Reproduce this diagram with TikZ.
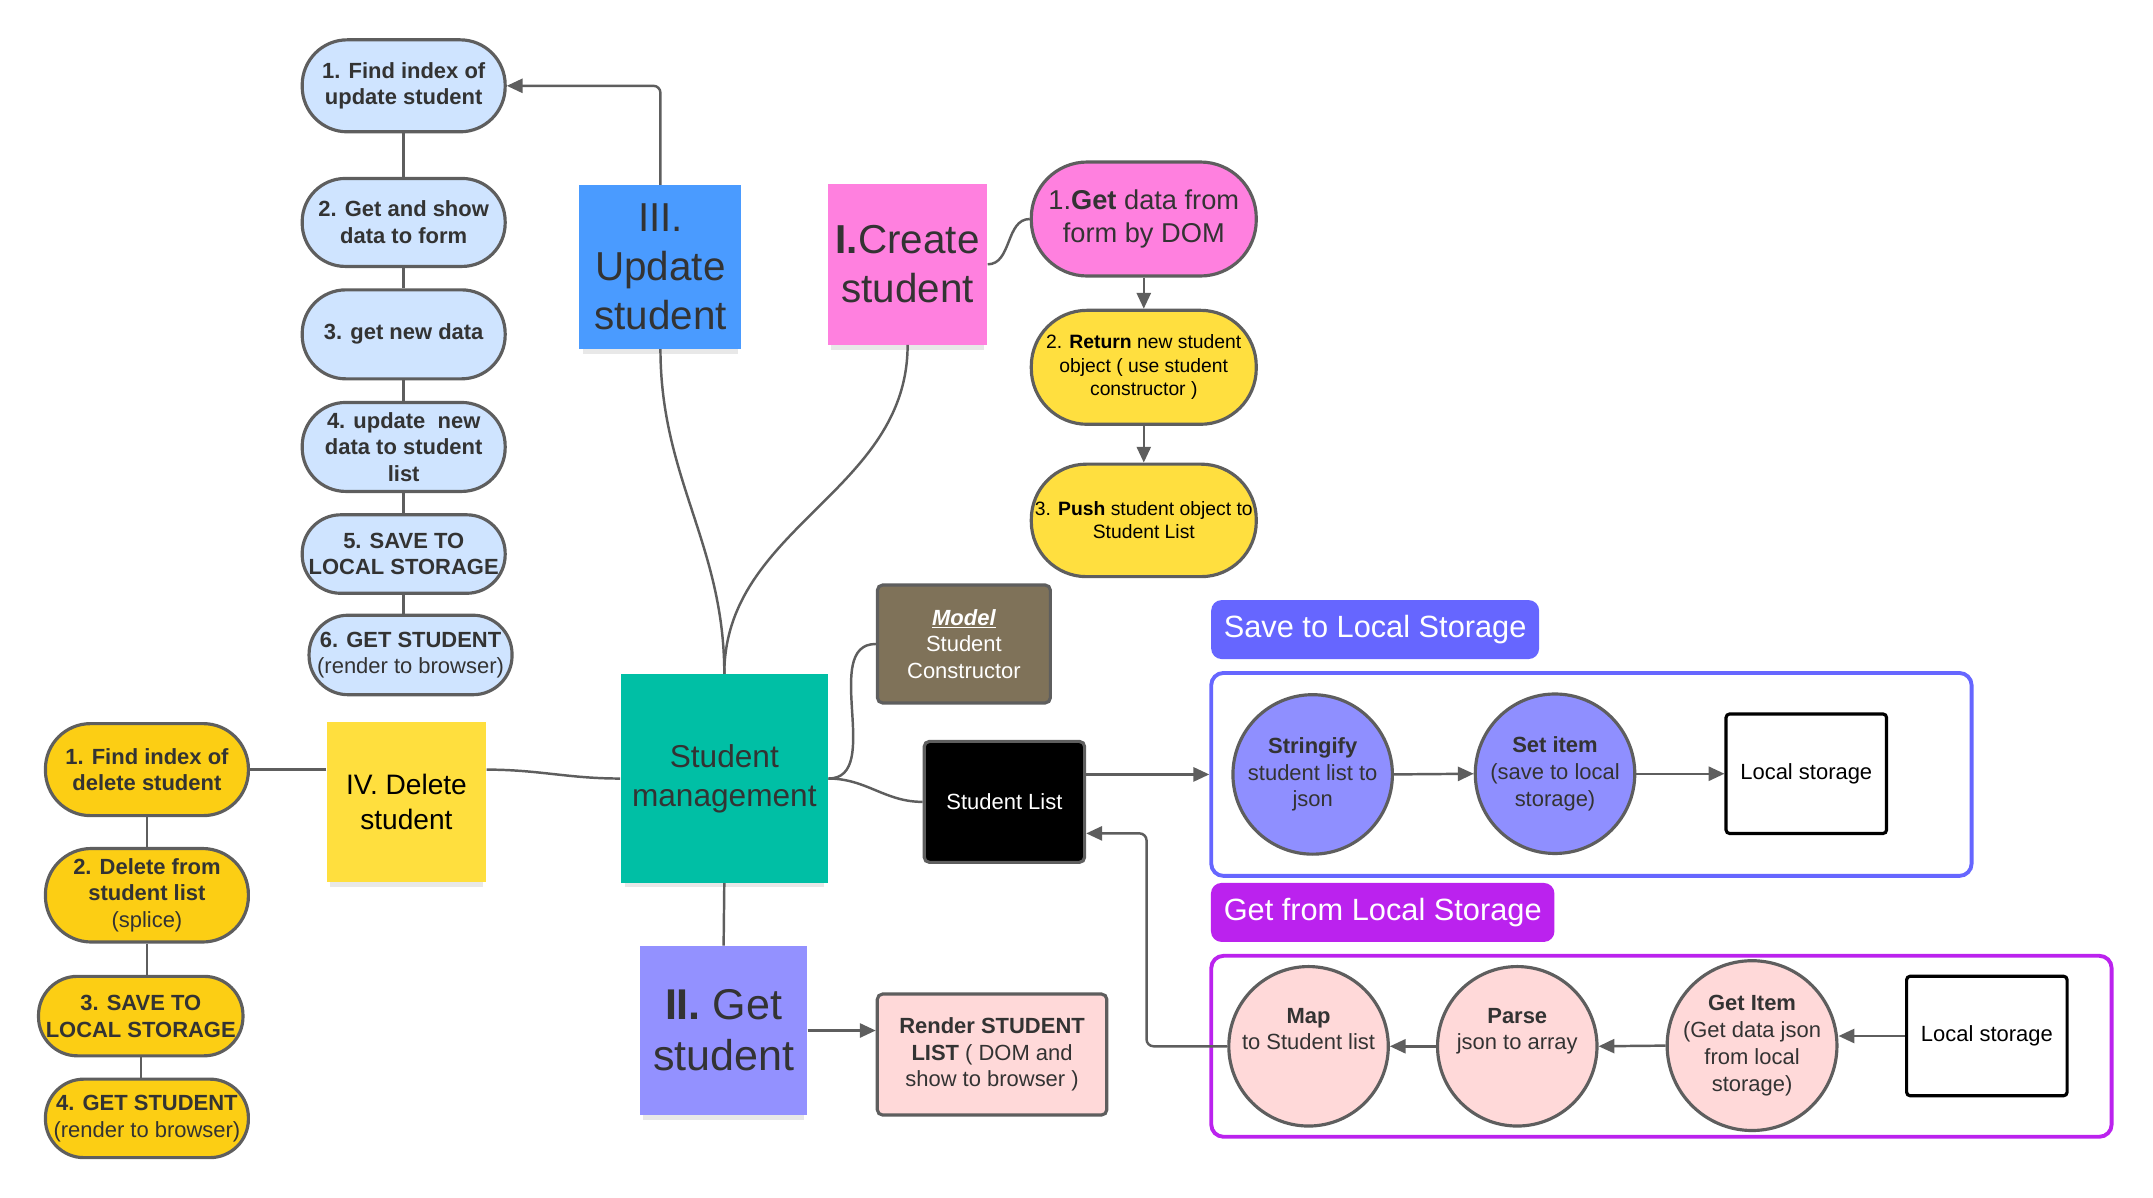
\documentclass[tikz,border=0pt]{standalone}
\usepackage{fontspec}
\setmainfont{Liberation Sans}
\usetikzlibrary{arrows.meta, shadows}

\definecolor{linegray}{HTML}{5E5E5E}
\definecolor{txtgray}{HTML}{333333}
\definecolor{updfill}{HTML}{CFE4FF}
\definecolor{delfill}{HTML}{FCCE14}
\definecolor{crpink}{HTML}{FF80DF}
\definecolor{cryellow}{HTML}{FFDF3F}
\definecolor{updnote}{HTML}{4A9BFF}
\definecolor{delnote}{HTML}{FFDF3E}
\definecolor{smfill}{HTML}{00BFA5}
\definecolor{getnote}{HTML}{9391FF}
\definecolor{modelfill}{HTML}{7F7259}
\definecolor{lsfill}{HTML}{FFD9D9}
\definecolor{savecol}{HTML}{6666FF}
\definecolor{getcol}{HTML}{BB22EE}
\definecolor{savebub}{HTML}{8F8FFF}

\begin{document}
\begin{tikzpicture}[
    x=0.02746cm, y=-0.02746cm,
    % Line and box styles
    conn/.style={draw=linegray, line width=1.4pt},
    arrow/.style={conn, -{Triangle[length=9pt, width=8pt]}},
    pill/.style={draw=linegray, line width=1.8pt, minimum height=#1, rounded corners=0.49*#1, inner sep=1pt, align=center},
    updstep/.style={pill=#1, fill=updfill, minimum width=4.06cm, text=txtgray, font=\fontsize{12.5}{15.2}\selectfont\bfseries},
    delstep/.style={pill=#1, fill=delfill, minimum width=4.06cm, text=txtgray, font=\fontsize{12.5}{15.2}\selectfont\bfseries},
    crstep/.style={pill=#1, minimum width=4.5cm},
    note/.style={align=center, text=txtgray, inner sep=2pt, drop shadow={shadow xshift=0pt, shadow yshift=-5pt, shadow scale=0.96, opacity=0.18}},
    box/.style={draw=linegray, line width=1.8pt, rounded corners=3pt, align=center, font=\fontsize{12.5}{15.2}\selectfont},
    bubble/.style={circle, draw=linegray, line width=1.8pt, minimum size=3.19cm, inner sep=0pt, align=center, text=txtgray, font=\fontsize{12.5}{15.2}\selectfont},
    store/.style={draw=black, line width=1.8pt, rounded corners=2pt, fill=white, minimum width=3.21cm, minimum height=2.39cm, font=\fontsize{12.5}{15.2}\selectfont},
    tagbox/.style={rounded corners=6pt, text=white, minimum height=1.18cm, font=\fontsize{17.5}{21}\selectfont},
    groupframe/.style={rounded corners=7pt, line width=2.2pt, fill=white}
]
\useasboundingbox (0,0) rectangle (1568,872);

% 1. Sticky notes
\node[note, fill=smfill, minimum width=4.15cm, minimum height=4.17cm, font=\fontsize{18}{22}\selectfont] (sm) at (527.5, 567) {Student\\management};
\node[note, fill=updnote, minimum width=3.24cm, minimum height=3.27cm, font=\fontsize{23}{28}\selectfont] (update) at (481, 194.5) {III.\\Update\\student};
\node[note, fill=crpink, minimum width=3.19cm, minimum height=3.21cm, font=\fontsize{23}{28}\selectfont] (create) at (661, 192.5) {\textbf{I.}Create\\student};
\node[note, fill=delnote, text=black, minimum width=3.19cm, minimum height=3.19cm, font=\fontsize{16}{19.5}\selectfont] (delete) at (296, 584) {IV. Delete\\student};
\node[note, fill=getnote, minimum width=3.35cm, minimum height=3.38cm, font=\fontsize{24.5}{29}\selectfont] (get) at (527, 750.5) {\textbf{II.} Get\\student};

% 2. Update steps
\node[updstep=1.84cm] (u1) at (294, 62.5) {1. Find index of\\update student};
\node[updstep=1.76cm] (u2) at (294, 162) {2. Get and show\\data to form};
\node[updstep=1.78cm] (u3) at (294, 243.5) {3. get new data};
\node[updstep=1.78cm] (u4) at (294, 325.5) {4. update\ \ new\\data to student\\list};
\node[updstep=1.57cm] (u5) at (294, 403.5) {5. SAVE TO\\LOCAL STORAGE};
\node[updstep=1.59cm] (u6) at (299, 477) {6. GET STUDENT\\\mdseries(render to browser)};

% 3. Delete steps
\node[delstep=1.84cm] (d1) at (107, 560.5) {1. Find index of\\delete student};
\node[delstep=1.87cm] (d2) at (107, 652) {2. Delete from\\student list\\\mdseries(splice)};
\node[delstep=1.59cm, minimum width=4.09cm] (d3) at (102.5, 740) {3. SAVE TO\\LOCAL STORAGE};
\node[delstep=1.57cm] (d4) at (107, 814.5) {4. GET STUDENT\\\mdseries(render to browser)};

% 4. Create steps
\node[crstep=2.28cm, fill=crpink, text=txtgray, font=\fontsize{15.5}{18.7}\selectfont] (c1) at (833, 159.5) {1.\textbf{Get} data from\\form by DOM};
\node[crstep=2.28cm, fill=cryellow, font=\fontsize{11}{13.3}\selectfont] (c2) at (833, 267.5) {2. \textbf{Return} new student\\object ( use student\\constructor )};
\node[crstep=2.25cm, fill=cryellow, font=\fontsize{11}{13.3}\selectfont] (c3) at (833, 379) {3. \textbf{Push} student object to\\Student List};

% 5. Model, list and render boxes
\node[box, fill=modelfill, text=white, minimum width=3.46cm, minimum height=2.36cm] (model) at (702, 469) {\textbf{\textit{\underline{Model}}}\\Student\\Constructor};
\node[box, fill=black, text=white, minimum width=3.21cm, minimum height=2.42cm] (list) at (731.5, 584) {Student List};
\node[box, fill=lsfill, text=txtgray, minimum width=4.59cm, minimum height=2.42cm] (render) at (722.5, 768) {\textbf{Render STUDENT}\\\textbf{LIST} ( DOM and\\show to browser )};

% 6. Local storage groups
\node[tagbox, fill=savecol, minimum width=6.56cm] (savetag) at (1001.5, 458.5) {Save to Local Storage};
\node[groupframe, draw=savecol, minimum width=15.21cm, minimum height=4.06cm] (saveframe) at (1159, 564) {};
\node[tagbox, fill=getcol, minimum width=6.87cm] (gettag) at (1007, 664.5) {Get from Local Storage};
\node[groupframe, draw=getcol, minimum width=18.01cm, minimum height=3.62cm] (getframe) at (1210, 762) {};

\node[bubble, fill=savebub] (stringify) at (956, 564) {\textbf{Stringify}\\student list to\\json};
\node[bubble, fill=savebub] (setitem) at (1132.5, 563.5) {\textbf{Set item}\\(save to local\\storage)};
\node[store] (ls1) at (1315.5, 563.5) {Local storage};

\node[bubble, fill=lsfill] (map) at (953, 762) {\textbf{Map}\\to Student list\\\strut};
\node[bubble, fill=lsfill] (parse) at (1105, 762) {\textbf{Parse}\\json to array\\\strut};
\node[bubble, fill=lsfill] (getitem) at (1276, 761.5) {\textbf{Get Item}\\(Get data json\\from local\\storage)};
\node[store] (ls2) at (1447, 754.5) {Local storage};

% 7. Curves into student management
\draw[conn] (update.south) to[out=-90, in=90] (sm.north);
\draw[conn] (create.south) to[out=-90, in=90] (sm.north);
\draw[conn] (sm.south) -- (get.north);
\draw[conn] (sm.east) to[out=0, in=180] (model.west);
\draw[conn] (sm.east) to[out=0, in=180] (list.west);
\draw[conn] (sm.west) to[out=180, in=0] (d1.east -| delete.east);
\draw[conn] (delete.west |- d1.east) -- (d1.east);
\draw[conn] (create.east) to[out=0, in=180] (c1.west);

% 8. Step chains
\draw[arrow, rounded corners=4pt] (update.north) |- (u1.east);
\foreach \a/\b in {u1/u2, u2/u3, u3/u4, u4/u5, u5/u6, d1/d2, d2/d3, d3/d4}
    \draw[conn] (\a.south) -- (\a.south |- \b.north);
\draw[arrow] (c1.south) -- (c2.north);
\draw[arrow] (c2.south) -- (c3.north);
\draw[arrow] (get.east) -- (get.east -| render.west);

% 9. Save and get flows
\draw[arrow] (stringify -| list.east) -- (stringify -| saveframe.west);
\draw[arrow] (stringify.east) -- (setitem.west);
\draw[arrow] (setitem.east) -- (ls1.west);
\draw[arrow] (ls2.west) -- (ls2.west -| getitem.east);
\draw[arrow] (getitem.west) -- (parse.east);
\draw[arrow] (parse.west) -- (map.east);
\coordinate (turn) at (835, 762);
\draw[arrow, rounded corners=4pt] (map.west) -- (turn) |- ([yshift=-0.63cm]list.east);

\end{tikzpicture}
\end{document}
